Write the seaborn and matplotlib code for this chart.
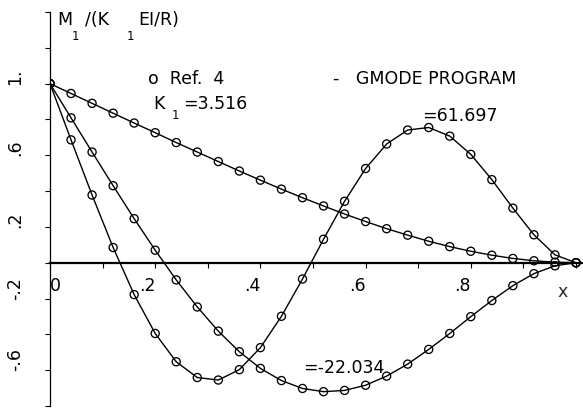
import matplotlib
matplotlib.use("Agg")
import matplotlib.pyplot as plt
import pandas as pd
import seaborn as sns

# Station positions along the beam (x = r/R) and normalised bending moment
# M1/(K1 EI/R) for the first three cantilever modes.
x_pos = [0.00, 0.04, 0.08, 0.12, 0.16, 0.20, 0.24, 0.28, 0.32, 0.36, 0.40, 0.44, 0.48,
         0.52, 0.56, 0.60, 0.64, 0.68, 0.72, 0.76, 0.80, 0.84, 0.88, 0.92, 0.96, 1.00]
m_mode1 = [1.000, 0.945, 0.890, 0.835, 0.780, 0.726, 0.671, 0.618, 0.565, 0.512, 0.461, 0.411, 0.363,
           0.317, 0.272, 0.230, 0.190, 0.154, 0.120, 0.090, 0.064, 0.042, 0.024, 0.011, 0.003, 0.000]
m_mode2 = [1.000, 0.809, 0.618, 0.430, 0.246, 0.070, -0.096, -0.247, -0.382, -0.497, -0.590, -0.658, -0.702,
           -0.720, -0.713, -0.684, -0.633, -0.566, -0.484, -0.395, -0.301, -0.211, -0.128, -0.061, -0.017, 0.000]
m_mode3 = [1.000, 0.686, 0.378, 0.085, -0.178, -0.395, -0.553, -0.641, -0.655, -0.597, -0.474, -0.299, -0.091,
           0.131, 0.343, 0.526, 0.663, 0.741, 0.755, 0.707, 0.605, 0.464, 0.305, 0.156, 0.044, 0.000]
mode_names = ["3.516", "22.034", "61.697"]

x_ticks = [0.0, 0.1, 0.2, 0.3, 0.4, 0.5, 0.6, 0.7, 0.8, 0.9, 1.0]
x_tick_labels = ["0", "", ".2", "", ".4", "", ".6", "", ".8", "", ""]
y_ticks = [-0.8, -0.6, -0.4, -0.2, 0.0, 0.2, 0.4, 0.6, 0.8, 1.0, 1.2, 1.4]
y_tick_labels = ["", "-.6", "", "-.2", "", ".2", "", ".6", "", "1.", "", ""]

sns.set_theme(style="ticks", rc={
    "axes.edgecolor": "black", "text.color": "black",
    "xtick.color": "black", "ytick.color": "black",
})
plt.rcParams["font.family"] = ["DejaVu Sans"]

frames = []
for name, vals in zip(mode_names, [m_mode1, m_mode2, m_mode3]):
    frames.append(pd.DataFrame({"x": x_pos, "M": vals, "mode": name}))
df = pd.concat(frames, ignore_index=True)

fig = plt.figure(figsize=(5.83, 4.10), dpi=100)
ax = fig.add_axes([50 / 583, 3 / 410, 533 / 583, 394 / 410])

# GMODE program curves
sns.lineplot(data=df, x="x", y="M", hue="mode", palette=["black"] * 3,
             estimator=None, sort=False, linewidth=1.0, legend=False, ax=ax)
# Ref. 4 values
sns.scatterplot(data=df, x="x", y="M", marker="o", s=34, facecolor="none",
                edgecolor="black", linewidth=0.95, legend=False, ax=ax, zorder=3)

ax.set_xlim(0, 533 / 526)
ax.set_ylim(-0.8, 1.4)

for side in ("top", "right"):
    ax.spines[side].set_visible(False)
ax.spines["bottom"].set_position(("data", 0))
ax.spines["bottom"].set_linewidth(1.6)
ax.spines["left"].set_linewidth(0.9)

ax.set_xticks(x_ticks)
ax.set_xticklabels(x_tick_labels)
ax.set_yticks(y_ticks)
ax.set_yticklabels(y_tick_labels)
ax.tick_params(axis="x", direction="out", length=3.6, width=0.8, pad=6, labelsize=12.5)
ax.tick_params(axis="y", direction="out", length=3.6, width=0.8, pad=21.6, labelsize=12.5)
for lab in ax.get_xticklabels():
    lab.set_ha("left" if lab.get_text() == "0" else "right")
for lab in ax.get_yticklabels():
    lab.set_rotation(90)
    lab.set_ha("center")
    lab.set_va("bottom")

ax.set_xlabel("x", fontsize=12.5)
ax.xaxis.set_label_coords(0.961, 0.315)
ax.set_ylabel("")

fs = 12.5
fs_sub = 8.5
# axis title M1/(K1 EI/R)
ax.text(0.0133, 1.36, "M", fontsize=fs, va="center", ha="left")
ax.text(0.0475, 1.27, "1", fontsize=fs_sub, va="center", ha="center")
ax.text(0.0665, 1.36, "/(K", fontsize=fs, va="center", ha="left")
ax.text(0.152, 1.27, "1", fontsize=fs_sub, va="center", ha="center")
ax.text(0.167, 1.36, "EI/R)", fontsize=fs, va="center", ha="left")

# key
ax.text(0.186, 1.034, "o  Ref.  4", fontsize=fs, va="center", ha="left")
ax.text(0.538, 1.034, "-   GMODE PROGRAM", fontsize=fs, va="center", ha="left")
ax.text(0.196, 0.893, "K", fontsize=fs, va="center", ha="left")
ax.text(0.238, 0.826, "1", fontsize=fs_sub, va="center", ha="center")
ax.text(0.253, 0.893, "=" + mode_names[0], fontsize=fs, va="center", ha="left")

# mode labels
ax.text(0.707, 0.826, "=" + mode_names[2], fontsize=fs, va="center", ha="left")
ax.text(0.481, -0.584, "=-" + mode_names[1], fontsize=fs, va="center", ha="left")

fig.savefig("out.png", dpi=100)
